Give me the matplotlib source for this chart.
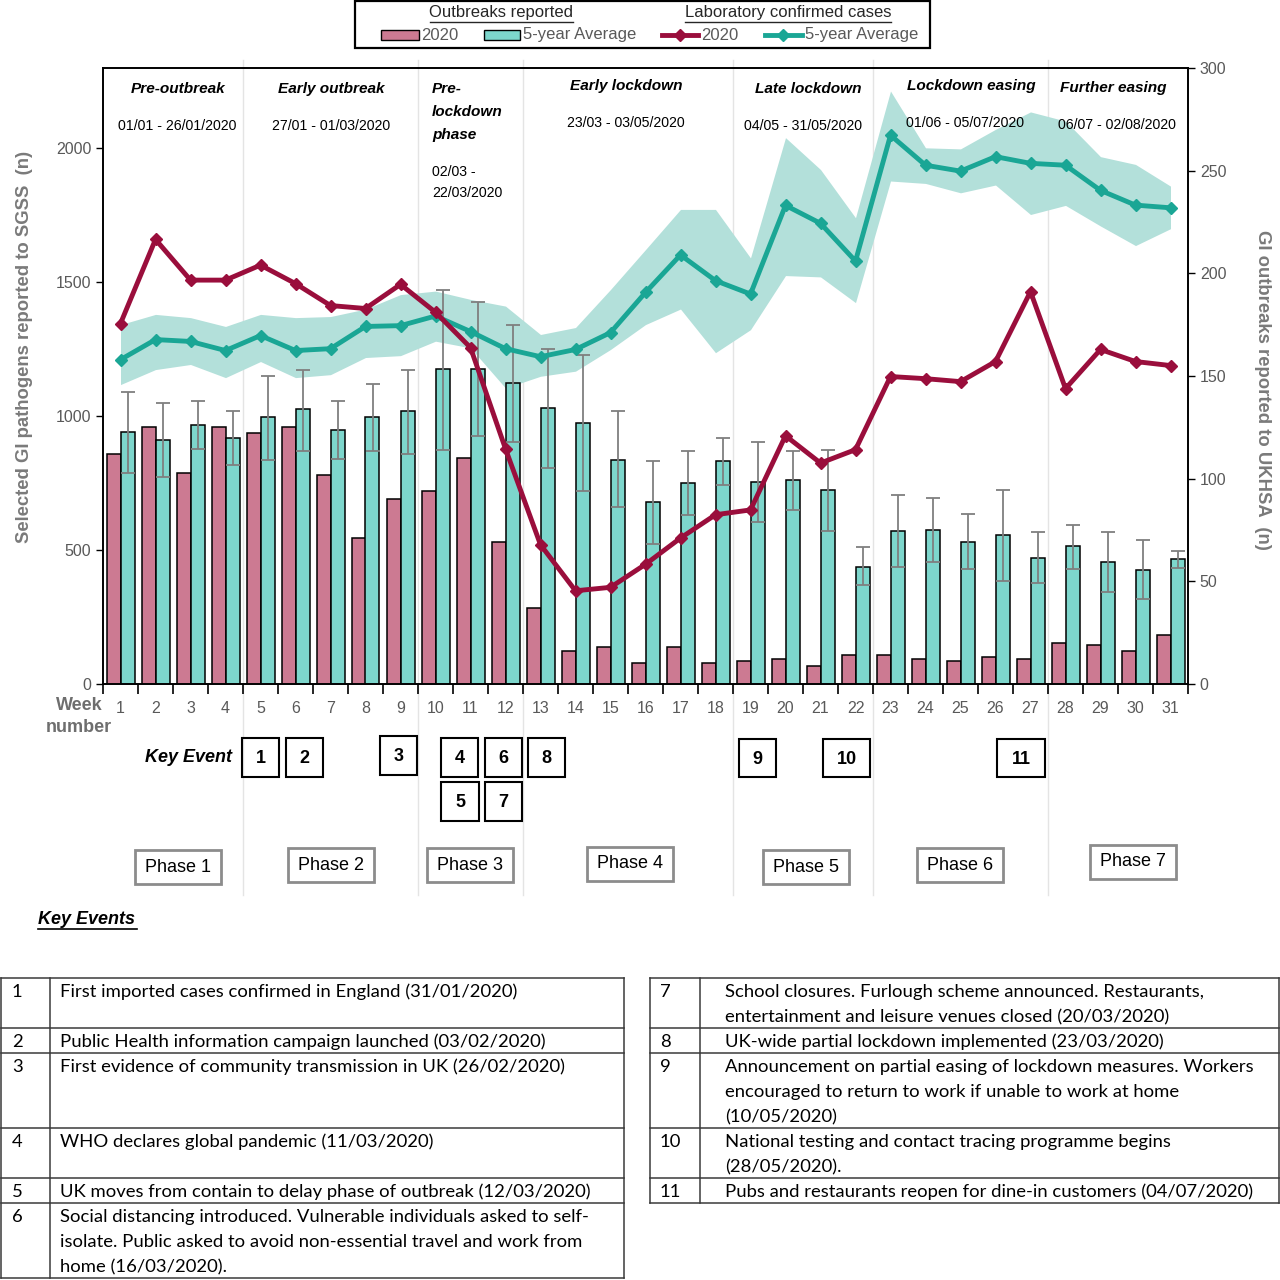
import numpy as np
import matplotlib
matplotlib.use("Agg")
import matplotlib.pyplot as plt
from matplotlib import font_manager as fm
from matplotlib.patches import Rectangle
from matplotlib.lines import Line2D
from matplotlib.transforms import blended_transform_factory

# ---- data ----
weeks = np.arange(1, 32)

# GI outbreaks reported to UKHSA (right axis, bars)
outbreaks_2020 = [112, 125, 103, 125, 122, 125, 102, 71, 90, 94, 110, 69, 37, 16, 18, 10,
                  18, 10, 11, 12, 9, 14, 14, 12, 11, 13, 12, 20, 19, 16, 24]
outbreaks_avg = [122.6, 118.7, 126.3, 119.8, 129.8, 133.7, 123.9, 129.9, 132.8, 153.2, 153.2,
                 146.7, 134.5, 127.2, 109.3, 88.6, 97.9, 108.6, 98.4, 99.2, 94.3, 57.2, 74.5,
                 74.8, 69.3, 72.4, 61.6, 67.0, 59.3, 55.6, 60.8]
outbreaks_avg_hi = [142, 137, 138, 133, 150, 153, 137.7, 146.3, 153, 192, 186, 175, 163, 160,
                    132.8, 108.8, 113.7, 119.8, 117.7, 113.7, 114.1, 66.7, 92, 90.6, 82.6, 94.6,
                    74.1, 77.6, 73.8, 70, 64.9]
outbreaks_avg_lo = [103, 100.6, 114.5, 106.8, 109.3, 113.7, 109.8, 113.3, 112.2, 114.1, 120.6,
                    117.9, 105.2, 93.8, 86, 68.3, 82.1, 97.1, 79, 84.9, 74.3, 48, 57, 59.2, 56.1,
                    50.2, 49, 56.1, 45, 41.5, 56.7]

# Selected GI pathogens reported to SGSS (left axis, lines)
cases_2020 = [1346, 1660, 1508, 1508, 1564, 1495, 1413, 1402, 1492, 1388, 1256, 878, 520, 348,
              361, 447, 545, 632, 650, 927, 825, 875, 1148, 1140, 1129, 1204, 1465, 1103, 1249,
              1204, 1189]
cases_avg = [1211, 1286, 1279, 1245, 1301, 1245, 1252, 1335, 1338, 1374, 1316, 1252, 1222, 1249,
             1312, 1462, 1602, 1506, 1456, 1787, 1720, 1579, 2049, 1937, 1915, 1969, 1944, 1937,
             1843, 1788, 1778]
cases_avg_hi = [1342, 1380, 1368, 1335, 1380, 1368, 1372, 1400, 1454, 1467, 1436, 1411, 1305,
                1331, 1473, 1622, 1772, 1772, 1591, 2040, 1921, 1741, 2214, 2002, 1998, 2071,
                2136, 2102, 1969, 1940, 1859]
cases_avg_lo = [1118, 1174, 1193, 1144, 1204, 1144, 1155, 1219, 1226, 1280, 1255, 1105, 1149,
                1168, 1249, 1342, 1400, 1237, 1323, 1525, 1520, 1424, 1878, 1869, 1834, 1863,
                1753, 1787, 1710, 1637, 1700]

phase_bounds = [4.5, 9.5, 12.5, 18.5, 22.5, 27.5]

events_left = [
    ("1", ["First imported cases confirmed in England (31/01/2020)"]),
    ("2", ["Public Health information campaign launched (03/02/2020)"]),
    ("3", ["First evidence of community transmission in UK (26/02/2020)"]),
    ("4", ["WHO declares global pandemic (11/03/2020)"]),
    ("5", ["UK moves from contain to delay phase of outbreak (12/03/2020)"]),
    ("6", ["Social distancing introduced. Vulnerable individuals asked to self-",
           "isolate. Public asked to avoid non-essential travel and work from",
           "home (16/03/2020)."]),
]
events_right = [
    ("7", ["School closures. Furlough scheme announced. Restaurants,",
           "entertainment and leisure venues closed (20/03/2020)"]),
    ("8", ["UK-wide partial lockdown implemented (23/03/2020)"]),
    ("9", ["Announcement on partial easing of lockdown measures. Workers",
           "encouraged to return to work if unable to work at home",
           "(10/05/2020)"]),
    ("10", ["National testing and contact tracing programme begins",
            "(28/05/2020)."]),
    ("11", ["Pubs and restaurants reopen for dine-in customers (04/07/2020)"]),
]

# colours
PINK = "#cc7a92"
TEAL_BAR = "#7dd6cc"
BAND = "#b3e0da"
RED = "#9a0e3c"
TEAL = "#1aa695"
GREY_TXT = "#595959"

installed = {f.name for f in fm.fontManager.ttflist}
NARROW = "Liberation Sans Narrow" if "Liberation Sans Narrow" in installed else "Liberation Sans"
nscale = 1.0 if NARROW == "Liberation Sans Narrow" else 0.85
plt.rcParams["font.family"] = "Liberation Sans"

fig = plt.figure(figsize=(12.8, 12.8), dpi=100)
W = H = 1280.0

# bottom overlay (separator lines) and top overlay (texts, boxes), pixel coords with y down
ov0 = fig.add_axes([0, 0, 1, 1])
ov = fig.add_axes([0, 0, 1, 1])
for o in (ov0, ov):
    o.set_xlim(0, W)
    o.set_ylim(H, 0)
    o.axis("off")
ov0.set_zorder(0)
ov.set_zorder(10)

x0, x1, y0, y1 = 103, 1188, 68, 684
rect = [x0 / W, 1 - y1 / H, (x1 - x0) / W, (y1 - y0) / H]
ax = fig.add_axes(rect)
ax.set_zorder(1)
ax.patch.set_visible(False)
axb = ax.twinx()
axb.set_zorder(2)
axl = ax.twinx()
axl.set_zorder(3)
for a in (axb, axl):
    a.patch.set_visible(False)

# band (behind bars)
ax.fill_between(weeks, cases_avg_lo, cases_avg_hi, color=BAND, lw=0)
ax.set_xlim(0.5, 31.5)
ax.set_ylim(0, 2300)
ax.set_yticks([0, 500, 1000, 1500, 2000])
ax.tick_params(axis="y", colors="black", labelcolor=GREY_TXT, labelsize=11.5, length=5, width=1)
ax.set_xticks(weeks)
ax.set_xticklabels([str(w) for w in weeks])
ax.tick_params(axis="x", which="major", length=0, labelcolor=GREY_TXT, labelsize=11.5, pad=12)
ax.set_xticks(np.arange(0.5, 32, 1), minor=True)
ax.tick_params(axis="x", which="minor", length=7, width=1.2, color="black")
for s in ax.spines.values():
    s.set_color("black")
    s.set_linewidth(1.2)

# bars
axb.bar(weeks - 0.2, outbreaks_2020, width=0.4, color=PINK, edgecolor="black", linewidth=1.1)
axb.bar(weeks + 0.2, outbreaks_avg, width=0.4, color=TEAL_BAR, edgecolor="black", linewidth=1.1)
yerr = [np.array(outbreaks_avg) - np.array(outbreaks_avg_lo),
        np.array(outbreaks_avg_hi) - np.array(outbreaks_avg)]
axb.errorbar(weeks + 0.2, outbreaks_avg, yerr=yerr, fmt="none", ecolor="#7f7f7f",
             elinewidth=1.3, capsize=5, capthick=1.3)
axb.set_ylim(0, 300)
axb.set_yticks(np.arange(0, 301, 50))
axb.tick_params(axis="y", colors="black", labelcolor=GREY_TXT, labelsize=11.5, length=5, width=1)
for s in axb.spines.values():
    s.set_color("black")
    s.set_linewidth(1.2)

# lines
axl.plot(weeks, cases_avg, color=TEAL, lw=3.5, marker="D", ms=6.5, zorder=3)
axl.plot(weeks, cases_2020, color=RED, lw=3.5, marker="D", ms=6.5, zorder=4)
axl.set_ylim(0, 2300)
axl.axis("off")

# phase separators through and below the chart
tr = blended_transform_factory(ax.transData, ov0.transData)
for b in phase_bounds:
    ov0.plot([b, b], [60, 895], transform=tr, color="#e4e4e4", lw=1, zorder=0)

# axis labels
fig.text(25 / W, 1 - 347 / H, "Selected GI pathogens reported to SGSS  (n)", rotation=90,
         ha="center", va="center", fontsize=13.3, fontweight="bold", color="#7a7a7a")
fig.text(1262 / W, 1 - 390 / H, "GI outbreaks reported to UKHSA  (n)", rotation=270,
         ha="center", va="center", fontsize=13.3, fontweight="bold", color="#7a7a7a")
ov.text(79, 705, "Week", ha="center", va="center", fontsize=13, fontweight="bold", color="#6e6e6e")
ov.text(79, 727, "number", ha="center", va="center", fontsize=13, fontweight="bold", color="#6e6e6e")

# phase titles
titles = [("Pre-outbreak", 178, 89, "center"), ("Early outbreak", 331, 89, "center"),
          ("Pre-", 432, 89, "left"), ("lockdown", 432, 112, "left"), ("phase", 432, 135, "left"),
          ("Early lockdown", 626, 86, "center"), ("Late lockdown", 808, 89, "center"),
          ("Lockdown easing", 971, 86, "center"), ("Further easing", 1113, 88, "center")]
for t, x, y, ha in titles:
    ov.text(x, y, t, ha=ha, va="center", family=NARROW, fontsize=13 * nscale,
            fontweight="bold", style="italic", color="black")
dates = [("01/01 - 26/01/2020", 177, 126, "center"), ("27/01 - 01/03/2020", 331, 126, "center"),
         ("02/03 -", 432, 172, "left"), ("22/03/2020", 432, 193, "left"),
         ("23/03 - 03/05/2020", 626, 123, "center"), ("04/05 - 31/05/2020", 803, 126, "center"),
         ("01/06 - 05/07/2020", 965, 123, "center"), ("06/07 - 02/08/2020", 1117, 125, "center")]
for t, x, y, ha in dates:
    ov.text(x, y, t, ha=ha, va="center", family=NARROW, fontsize=12 * nscale, color="black")

# legend
ov.add_patch(Rectangle((355, 1), 575, 47, fill=False, ec="black", lw=1.6))
ov.text(501, 13, "Outbreaks reported", ha="center", va="center", fontsize=12, color="#262626")
ov.plot([430, 573], [22, 22], color="#262626", lw=1)
ov.text(788, 13, "Laboratory confirmed cases", ha="center", va="center", fontsize=12, color="#262626")
ov.plot([685, 891], [22, 22], color="#262626", lw=1)
ov.add_patch(Rectangle((381, 30), 38, 10, fc=PINK, ec="black", lw=1))
ov.text(421, 35, "2020", ha="left", va="center", fontsize=12, color=GREY_TXT)
ov.add_patch(Rectangle((484, 30), 36, 10, fc=TEAL_BAR, ec="black", lw=1))
ov.text(523, 35, "5-year Average", ha="left", va="center", fontsize=12, color=GREY_TXT)
ov.add_line(Line2D([662, 698], [35, 35], color=RED, lw=3.5))
ov.plot([680], [35], marker="D", ms=6, color=RED)
ov.text(701, 35, "2020", ha="left", va="center", fontsize=12, color=GREY_TXT)
ov.add_line(Line2D([765, 802], [35, 35], color=TEAL, lw=3.5))
ov.plot([783], [35], marker="D", ms=6, color=TEAL)
ov.text(805, 35, "5-year Average", ha="left", va="center", fontsize=12, color=GREY_TXT)

# key event boxes
ov.text(232, 757, "Key Event", ha="right", va="center", fontsize=13, fontweight="bold",
        style="italic", color="black")
event_boxes = [("1", 242, 738, 37, 39), ("2", 286, 738, 37, 39), ("3", 380, 736, 37, 39),
               ("4", 441, 738, 37, 39), ("6", 485, 738, 37, 39), ("8", 528, 738, 37, 39),
               ("5", 441, 782, 38, 39), ("7", 485, 782, 37, 39), ("9", 739, 739, 37, 38),
               ("10", 823, 739, 47, 38), ("11", 997, 739, 48, 38)]
for lab, x, y, w, h in event_boxes:
    ov.add_patch(Rectangle((x, y), w, h, fill=False, ec="black", lw=1.5))
    ov.text(x + w / 2, y + h / 2 + 1, lab, ha="center", va="center", fontsize=13,
            fontweight="bold", color="black")

# phase boxes
phase_boxes = [(135, 850), (288, 848), (427, 848), (587, 847), (763, 850), (917, 848), (1090, 845)]
for i, (x, y) in enumerate(phase_boxes):
    ov.add_patch(Rectangle((x, y), 86, 34, fill=False, ec="#8c8c8c", lw=2))
    ov.text(x + 43, y + 17, "Phase %d" % (i + 1), ha="center", va="center", fontsize=13,
            color="black")

# key events tables
ov.text(38, 919, "Key Events", ha="left", va="center", fontsize=13, fontweight="bold",
        style="italic", color="black")
ov.plot([38, 137], [929, 929], color="black", lw=1.2)

TFONT = "Lato"
def draw_table(rows, bounds, xl, xr, xdiv, xnum, xtxt):
    for yy in bounds:
        ov.plot([xl, xr], [yy, yy], color="#3a3a3a", lw=1.1)
    for xx in (xl, xdiv, xr):
        ov.plot([xx, xx], [bounds[0], bounds[-1]], color="#3a3a3a", lw=1.1)
    for (num, lines), top in zip(rows, bounds[:-1]):
        ov.text(xnum, top + 14, num, ha="left", va="center", family=TFONT, fontsize=13.3,
                color="black")
        for k, ln in enumerate(lines):
            ov.text(xtxt, top + 14 + 25 * k, ln, ha="left", va="center", family=TFONT,
                    fontsize=13.3, color="black")

draw_table(events_left, [978, 1028, 1053, 1128, 1178, 1203, 1278], 1, 624, 50, 12, 60)
draw_table(events_right, [978, 1028, 1053, 1128, 1178, 1203], 650, 1279, 700, 660, 725)

fig.savefig("out.png", dpi=100)
